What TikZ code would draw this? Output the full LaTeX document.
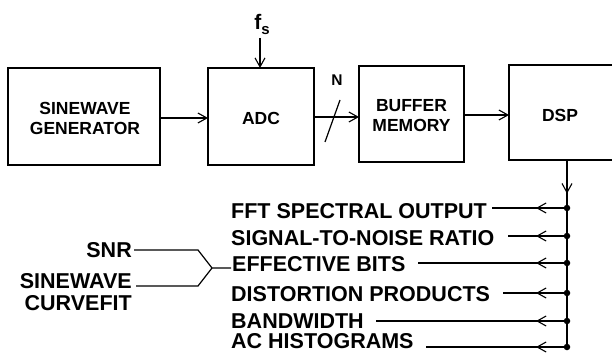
\documentclass[tikz,border=0pt]{standalone}
\usepackage{fontspec}
\setmainfont{Liberation Sans}
\usetikzlibrary{arrows.meta,decorations.markings}
\begin{document}
\begin{tikzpicture}[x=1pt,y=-1pt,
  blk/.style={draw,line width=1.4pt},
  lbl/.style={font=\fontsize{17.5}{20}\selectfont\bfseries,align=center},
  big/.style={font=\fontsize{21.5}{22}\selectfont\bfseries,inner sep=0pt},
  wire/.style={line width=1.2pt},
  arr/.style={wire,-{Straight Barb[length=9pt,width=10pt,line width=1.1pt]}},
  midarr/.style={wire,postaction={decorate},decoration={markings,
     mark=at position #1 with {\arrow{Straight Barb[length=9pt,width=10pt,line width=1.1pt]}}}},
  dot/.style={circle,fill,inner sep=0pt,minimum size=6.5pt}
]
\useasboundingbox (0,0) rectangle (612,353);
% boxes
\draw[blk] (8,68) rectangle (160,165);
\node[lbl] (gen) at (85,118) {SINEWAVE\\GENERATOR};
\draw[blk] (208,68) rectangle (314,165);
\node[lbl] (adc) at (261,118) {ADC};
\draw[blk] (359,66) rectangle (464,162);
\node[lbl] (buf) at (411.5,116) {BUFFER\\MEMORY};
\draw[blk] (509,65) rectangle (630,160);
\node[lbl] (dsp) at (560,115) {DSP};
% coordinates
\coordinate (g1) at (160,118); \coordinate (a1) at (208,118);
\coordinate (a2) at (314,117); \coordinate (b1) at (359,117);
\coordinate (b2) at (464,115); \coordinate (d1) at (509,115);
\coordinate (fstop) at (260,38); \coordinate (adctop) at (260,68);
\draw[arr] (g1) -- (a1);
\draw[arr] (a2) -- (b1);
\draw[arr] (b2) -- (d1);
\draw[arr] (fstop) -- (adctop);
\node (fs) at (262,24) {\fontsize{21}{21}\selectfont\bfseries f\raisebox{-0.45ex}{\fontsize{15}{15}\selectfont s}};
\node[font=\fontsize{15.5}{15.5}\selectfont\bfseries] (N) at (337,80) {N};
\coordinate (s1) at (325,142); \coordinate (s2) at (340,100);
\draw[wire] (s1) -- (s2);
% DSP output bus
\coordinate (dspb) at (567,160);
\node[dot] (p1) at (567,208) {};
\node[dot] (p2) at (567,236) {};
\node[dot] (p3) at (567,263) {};
\node[dot] (p4) at (567,293) {};
\node[dot] (p5) at (567,321) {};
\node[dot] (p6) at (567,347) {};
\draw[midarr=0.7] (dspb) -- (p1.center);
\draw[wire] (p1.center) -- (p6.center);
% outputs
\node[big,anchor=west] (t1) at (231,211) {FFT SPECTRAL OUTPUT};
\node[big,anchor=west] (t2) at (231,238) {SIGNAL-TO-NOISE RATIO};
\node[big,anchor=west] (t3) at (232,264.5) {EFFECTIVE BITS};
\node[big,anchor=west] (t4) at (231,294.5) {DISTORTION PRODUCTS};
\node[big,anchor=west] (t5) at (231,321) {BANDWIDTH};
\node[big,anchor=west] (t6) at (231,341) {AC HISTOGRAMS};
\foreach \i/\s in {1/492,2/508,3/418,4/503,5/376,6/426}{
  \coordinate (e\i) at (\s,0 |- p\i);
  \draw[midarr=31pt] (p\i.center) -- (e\i);
}
% left labels
\node[big,anchor=east] (snr) at (132,250) {SNR};
\node[big,anchor=north east,align=right] (scf) at (132,273) {SINEWAVE\\CURVEFIT};
\coordinate (snre) at (134,250); \coordinate (snrk) at (198,250);
\coordinate (scfe) at (136,286); \coordinate (scfk) at (198,286);
\coordinate (j) at (212,268); \coordinate (je) at (231,268);
\draw[wire] (snre) -- (snrk) -- (j) -- (je);
\draw[wire] (scfe) -- (scfk) -- (j);
\end{tikzpicture}
\end{document}
